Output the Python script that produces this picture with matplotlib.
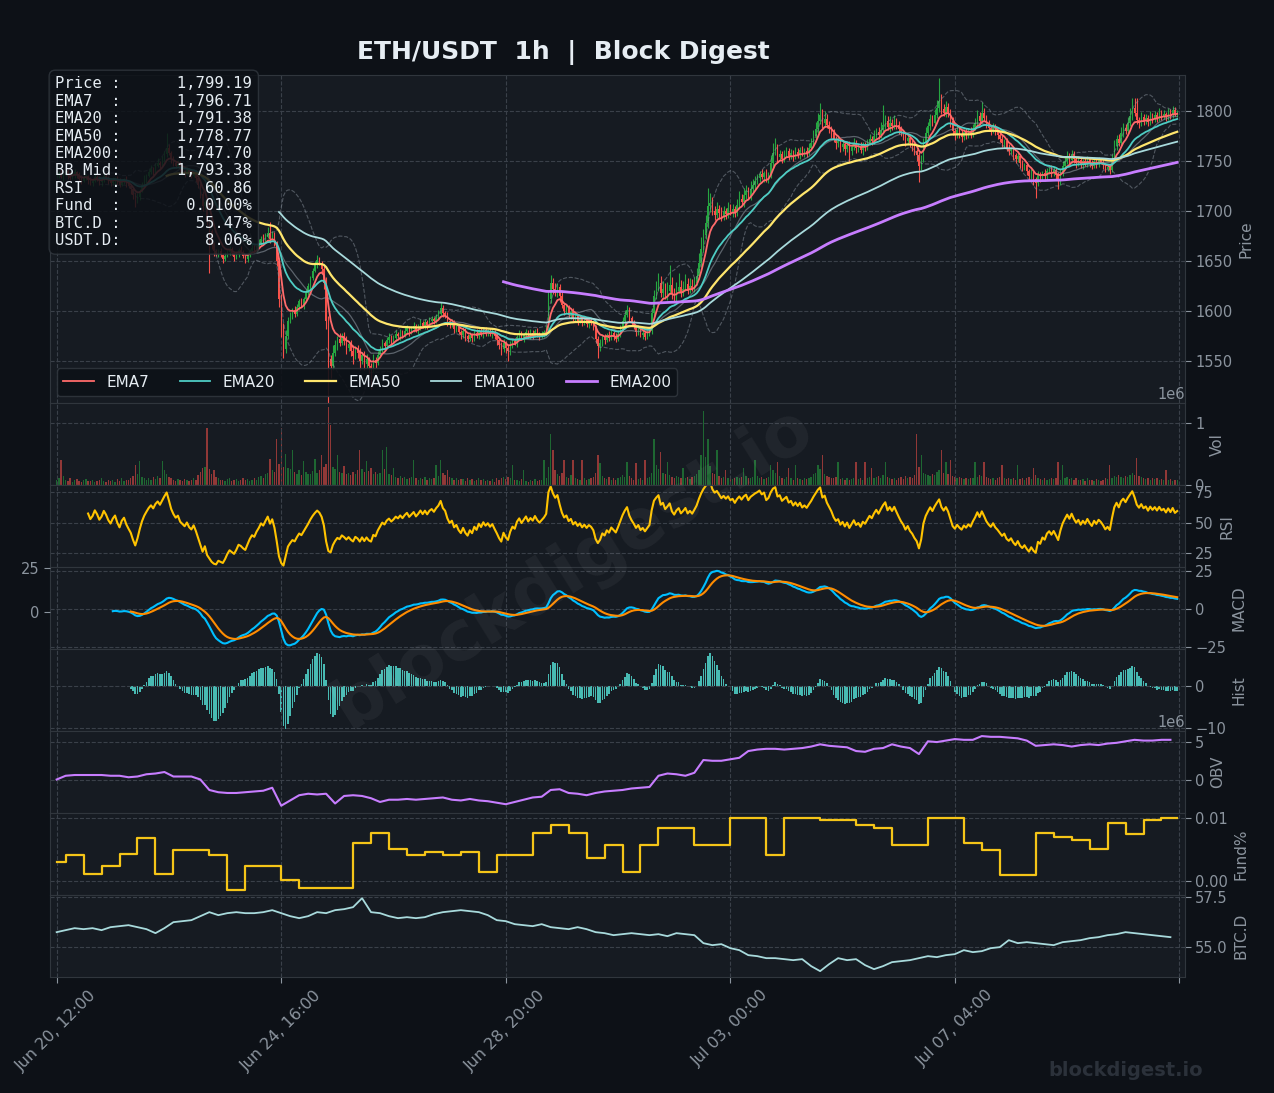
import numpy as np
import pandas as pd
import matplotlib
matplotlib.use("Agg")
import matplotlib.pyplot as plt
from matplotlib.ticker import FuncFormatter, FormatStrFormatter

BG = "#0d1117"
PANEL = "#161b22"
EDGE = "#30363d"
GRIDC = "#3a4049"
TXT = "#8b949e"
WHITE = "#e6edf3"

# hourly closes, Jun 20 12:00 -> Jul 11 07:00 (one line per day)
close = [
    1736, 1738, 1734, 1737, 1740, 1735, 1733, 1736, 1739, 1737, 1732, 1730, 1733, 1735, 1731, 1728, 1730, 1734, 1732, 1729, 1731, 1735, 1733, 1730,
    1728, 1731, 1733, 1729, 1726, 1730, 1732, 1728, 1725, 1722, 1716, 1710, 1714, 1720, 1726, 1731, 1735, 1739, 1742, 1740, 1745, 1748, 1746, 1751,
    1757, 1763, 1758, 1752, 1748, 1745, 1747, 1742, 1740, 1738, 1741, 1737, 1735, 1738, 1733, 1726, 1717, 1705, 1709, 1690, 1680, 1668, 1660, 1657,
    1660, 1656, 1652, 1655, 1659, 1662, 1658, 1654, 1657, 1661, 1659, 1655, 1652, 1656, 1660, 1663, 1661, 1665, 1668, 1672, 1670, 1674, 1678, 1672,
    1676, 1668, 1650, 1612, 1580, 1562, 1575, 1590, 1596, 1601, 1597, 1604, 1610, 1606, 1612, 1618, 1625, 1633, 1640, 1646, 1651, 1648, 1642, 1628,
    1590, 1552, 1545, 1558, 1566, 1572, 1568, 1575, 1570, 1563, 1567, 1560, 1555, 1562, 1558, 1550, 1556, 1547, 1552, 1545, 1542, 1551, 1548, 1556,
    1562, 1568, 1565, 1571, 1574, 1570, 1573, 1577, 1575, 1579, 1576, 1580, 1583, 1579, 1582, 1585, 1581, 1584, 1588, 1585, 1589, 1586, 1590, 1592,
    1590, 1594, 1597, 1603, 1598, 1596, 1590, 1586, 1588, 1582, 1584, 1579, 1576, 1580, 1575, 1572, 1576, 1573, 1578, 1575, 1580, 1577, 1581, 1578,
    1580, 1577, 1579, 1575, 1571, 1566, 1562, 1568, 1563, 1560, 1566, 1570, 1568, 1574, 1577, 1573, 1576, 1579, 1575, 1578, 1576, 1580, 1577, 1575,
    1577, 1579, 1582, 1612, 1628, 1622, 1618, 1624, 1615, 1606, 1600, 1603, 1596, 1599, 1592, 1595, 1590, 1593, 1588, 1591, 1587, 1590, 1588, 1584,
    1572, 1565, 1568, 1574, 1571, 1576, 1573, 1578, 1575, 1572, 1577, 1583, 1590, 1596, 1601, 1593, 1588, 1584, 1579, 1582, 1576, 1578, 1574, 1577,
    1580, 1598, 1615, 1622, 1628, 1618, 1622, 1615, 1620, 1626, 1617, 1613, 1620, 1624, 1618, 1622, 1627, 1621, 1625, 1622, 1628, 1635, 1648, 1662,
    1676, 1688, 1705, 1708, 1700, 1696, 1702, 1698, 1694, 1700, 1697, 1703, 1699, 1702, 1698, 1706, 1712, 1709, 1716, 1720, 1715, 1722, 1726, 1730,
    1733, 1737, 1734, 1738, 1732, 1736, 1748, 1758, 1762, 1754, 1757, 1752, 1756, 1760, 1755, 1758, 1754, 1759, 1756, 1761, 1757, 1760, 1758, 1763,
    1768, 1775, 1782, 1790, 1796, 1788, 1792, 1786, 1782, 1778, 1772, 1768, 1770, 1764, 1767, 1762, 1766, 1760, 1764, 1768, 1763, 1765, 1761, 1766,
    1764, 1768, 1772, 1770, 1775, 1779, 1776, 1781, 1786, 1790, 1784, 1788, 1785, 1790, 1786, 1782, 1778, 1775, 1770, 1773, 1768, 1765, 1760, 1756,
    1745, 1752, 1768, 1778, 1785, 1792, 1788, 1796, 1803, 1810, 1802, 1798, 1804, 1799, 1790, 1780, 1776, 1781, 1777, 1774, 1779, 1776, 1780, 1777,
    1783, 1788, 1795, 1790, 1798, 1793, 1787, 1783, 1780, 1784, 1779, 1776, 1772, 1768, 1770, 1763, 1760, 1762, 1756, 1752, 1755, 1748, 1744, 1746,
    1740, 1735, 1738, 1732, 1728, 1736, 1733, 1738, 1735, 1740, 1742, 1738, 1741, 1736, 1730, 1738, 1745, 1750, 1755, 1751, 1757, 1752, 1748, 1751,
    1746, 1750, 1747, 1752, 1748, 1745, 1750, 1747, 1751, 1749, 1746, 1742, 1744, 1741, 1752, 1765, 1772, 1768, 1778, 1783, 1780, 1788, 1795, 1803,
    1798, 1791, 1788, 1794, 1790, 1793, 1789, 1795, 1792, 1796, 1793, 1798, 1795, 1797, 1794, 1799, 1796, 1801, 1797, 1799.19,
]

# wick above the body / below the body, in USDT
wick_up = [
    3, 2, 4, 1, 3, 2, 5, 2, 3, 1, 2, 4, 3, 2, 1, 3, 2, 4, 2, 3, 1, 2, 3, 2,
    2, 3, 1, 2, 4, 2, 1, 3, 2, 1, 2, 3, 4, 2, 3, 5, 2, 3, 4, 2, 3, 5, 2, 4,
    3, 15, 4, 2, 3, 2, 4, 3, 2, 1, 3, 2, 4, 2, 3, 2, 2, 3, 2, 1, 3, 2, 1, 2,
    2, 3, 1, 4, 2, 3, 2, 1, 3, 2, 4, 2, 1, 3, 2, 4, 3, 2, 4, 3, 5, 4, 6, 11,
    4, 3, 2, 3, 5, 8, 6, 4, 3, 2, 4, 3, 2, 3, 2, 4, 3, 2, 3, 4, 5, 3, 2, 3,
    6, 5, 4, 8, 5, 3, 6, 3, 4, 5, 3, 4, 6, 3, 4, 5, 3, 4, 5, 2, 3, 6, 3, 4,
    3, 4, 2, 3, 4, 2, 3, 4, 2, 3, 2, 4, 3, 2, 3, 4, 2, 3, 4, 2, 3, 2, 4, 3,
    2, 3, 4, 6, 3, 2, 3, 2, 4, 3, 2, 3, 2, 4, 3, 2, 3, 2, 3, 4, 2, 3, 2, 3,
    2, 3, 4, 2, 3, 2, 3, 4, 2, 3, 4, 2, 3, 2, 4, 3, 2, 3, 2, 4, 3, 2, 3, 2,
    3, 2, 4, 8, 8, 5, 6, 4, 3, 5, 2, 4, 3, 2, 4, 3, 2, 3, 2, 4, 3, 2, 3, 2,
    2, 3, 4, 2, 3, 2, 4, 3, 2, 3, 4, 3, 4, 5, 5, 3, 2, 3, 2, 4, 2, 3, 2, 4,
    3, 5, 6, 8, 10, 7, 8, 6, 9, 20, 8, 6, 9, 14, 7, 8, 10, 6, 8, 7, 6, 8, 10, 12,
    6, 8, 18, 10, 6, 5, 7, 4, 6, 5, 3, 6, 4, 5, 3, 6, 8, 5, 7, 6, 4, 8, 6, 5,
    4, 3, 5, 2, 4, 3, 8, 10, 11, 5, 4, 3, 5, 4, 3, 4, 3, 5, 4, 3, 4, 3, 4, 5,
    5, 6, 7, 8, 12, 6, 8, 5, 4, 3, 4, 3, 5, 3, 4, 2, 3, 4, 3, 5, 3, 2, 4, 3,
    3, 4, 5, 3, 6, 4, 5, 8, 20, 6, 5, 7, 4, 6, 3, 4, 3, 2, 3, 4, 2, 3, 4, 2,
    3, 4, 5, 6, 4, 5, 4, 6, 8, 23, 7, 5, 6, 4, 3, 4, 3, 5, 3, 4, 3, 4, 3, 4,
    4, 5, 6, 4, 11, 5, 3, 4, 3, 4, 3, 2, 3, 4, 2, 3, 4, 2, 3, 2, 3, 2, 3, 2,
    3, 2, 4, 3, 2, 4, 3, 2, 4, 3, 2, 4, 3, 2, 3, 4, 5, 4, 5, 3, 4, 3, 2, 3,
    3, 2, 4, 3, 2, 3, 4, 2, 3, 2, 3, 2, 3, 2, 5, 6, 4, 5, 6, 5, 4, 6, 8, 10,
    10, 15, 3, 5, 3, 4, 3, 5, 3, 4, 3, 5, 3, 4, 2, 4, 3, 4, 3, 2,
]
wick_dn = [
    2, 3, 1, 4, 2, 3, 2, 1, 3, 4, 2, 3, 1, 2, 4, 2, 3, 1, 2, 3, 4, 2, 1, 3,
    3, 2, 4, 3, 2, 1, 3, 4, 2, 5, 4, 6, 2, 3, 1, 2, 3, 1, 2, 4, 2, 1, 3, 2,
    2, 3, 2, 4, 3, 2, 1, 3, 2, 4, 2, 3, 2, 1, 4, 3, 4, 5, 3, 4, 42, 6, 5, 2,
    3, 2, 4, 2, 1, 3, 2, 4, 2, 3, 1, 2, 4, 3, 2, 1, 3, 2, 1, 2, 3, 2, 1, 4,
    2, 3, 5, 8, 6, 9, 4, 3, 2, 4, 3, 2, 3, 2, 4, 3, 2, 3, 2, 1, 3, 2, 4, 6,
    8, 47, 12, 4, 3, 5, 3, 2, 4, 6, 3, 5, 8, 3, 5, 9, 3, 6, 4, 8, 20, 3, 5, 2,
    2, 3, 4, 2, 3, 5, 2, 3, 2, 4, 3, 2, 3, 4, 2, 3, 2, 4, 3, 2, 3, 4, 2, 3,
    3, 2, 3, 2, 4, 3, 5, 3, 2, 4, 3, 2, 4, 3, 5, 3, 2, 4, 3, 2, 3, 2, 4, 3,
    3, 2, 4, 3, 5, 4, 6, 3, 5, 10, 4, 3, 2, 4, 3, 2, 4, 3, 2, 3, 4, 2, 3, 4,
    2, 3, 2, 3, 4, 5, 3, 4, 6, 3, 4, 2, 3, 4, 2, 3, 4, 2, 3, 2, 3, 4, 2, 3,
    4, 12, 5, 3, 4, 2, 3, 2, 4, 3, 2, 3, 2, 3, 2, 4, 3, 2, 4, 3, 2, 4, 3, 2,
    2, 3, 4, 3, 2, 4, 5, 3, 4, 3, 5, 4, 3, 2, 4, 3, 2, 4, 3, 2, 3, 2, 3, 4,
    3, 4, 5, 6, 4, 5, 3, 6, 4, 3, 5, 4, 3, 5, 4, 3, 4, 3, 5, 4, 3, 4, 3, 4,
    3, 4, 2, 5, 3, 4, 3, 4, 2, 5, 3, 4, 3, 2, 4, 3, 4, 2, 3, 4, 2, 3, 4, 2,
    2, 3, 2, 4, 3, 5, 4, 3, 4, 5, 3, 6, 4, 5, 4, 6, 3, 11, 4, 3, 5, 4, 3, 5,
    4, 3, 2, 4, 3, 2, 4, 3, 2, 4, 3, 5, 4, 3, 4, 5, 3, 4, 5, 3, 4, 5, 4, 6,
    16, 4, 3, 2, 3, 4, 3, 2, 3, 4, 5, 3, 4, 5, 6, 4, 5, 3, 4, 5, 3, 4, 3, 4,
    3, 2, 3, 4, 2, 3, 4, 3, 4, 2, 3, 4, 3, 4, 5, 3, 4, 3, 5, 4, 3, 5, 4, 3,
    4, 5, 3, 6, 15, 3, 4, 3, 5, 4, 3, 4, 3, 5, 8, 4, 3, 2, 3, 4, 3, 4, 5, 3,
    3, 4, 2, 3, 4, 3, 2, 4, 3, 2, 4, 3, 2, 4, 2, 3, 4, 3, 2, 4, 3, 2, 3, 4,
    3, 4, 5, 3, 4, 3, 4, 3, 4, 3, 4, 3, 4, 3, 4, 3, 4, 3, 2, 3,
]

# hourly volume, thousands of ETH
volume_k = [
    80, 120, 410, 150, 90, 70, 110, 60, 85, 95, 70, 55, 80, 100, 65, 75, 90, 60, 70, 85, 110, 75, 60, 90,
    70, 85, 60, 95, 75, 110, 65, 80, 90, 120, 150, 330, 180, 400, 140, 120, 90, 110, 85, 130, 95, 150, 120, 400,
    250, 180, 140, 110, 90, 75, 100, 85, 70, 95, 80, 65, 90, 110, 85, 160, 220, 280, 300, 930, 260, 190, 250, 140,
    120, 90, 80, 70, 95, 110, 75, 85, 100, 70, 90, 115, 80, 95, 70, 85, 110, 90, 130, 150, 120, 180, 200, 420,
    250, 220, 740, 350, 930, 300, 500, 280, 260, 570, 220, 190, 240, 170, 400, 210, 180, 190, 230, 430, 200, 250, 490, 300,
    350, 1260, 980, 300, 260, 490, 220, 200, 310, 180, 200, 160, 220, 190, 240, 570, 260, 210, 400, 230, 280, 190, 220, 180,
    200, 570, 260, 610, 180, 160, 280, 140, 120, 150, 110, 130, 100, 120, 140, 410, 110, 90, 120, 100, 130, 85, 110, 95,
    120, 330, 150, 410, 200, 170, 250, 130, 110, 90, 120, 80, 100, 95, 70, 110, 85, 100, 75, 90, 120, 80, 95, 70,
    85, 70, 95, 60, 110, 90, 120, 140, 100, 130, 110, 330, 90, 80, 70, 100, 250, 75, 60, 85, 70, 95, 65, 80,
    90, 410, 110, 300, 820, 570, 240, 180, 150, 200, 410, 130, 110, 160, 410, 120, 100, 90, 410, 110, 80, 95, 120, 140,
    200, 490, 360, 150, 120, 100, 130, 90, 110, 85, 120, 140, 160, 130, 380, 150, 110, 90, 360, 100, 120, 85, 410, 110,
    130, 200, 740, 320, 260, 540, 200, 180, 380, 160, 140, 120, 150, 130, 110, 280, 120, 140, 100, 130, 150, 180, 250, 490,
    1200, 450, 740, 310, 200, 180, 570, 150, 120, 140, 250, 110, 130, 100, 120, 140, 110, 130, 280, 150, 120, 110, 140, 410,
    150, 120, 130, 100, 110, 140, 330, 250, 200, 380, 150, 120, 100, 130, 280, 110, 90, 330, 120, 100, 85, 110, 95, 120,
    140, 180, 200, 330, 260, 490, 180, 150, 140, 120, 110, 130, 380, 100, 120, 90, 110, 85, 100, 120, 380, 95, 110, 90,
    380, 120, 140, 280, 110, 130, 150, 120, 170, 380, 130, 110, 100, 120, 90, 110, 130, 100, 150, 120, 140, 110, 160, 820,
    300, 490, 200, 180, 160, 150, 190, 170, 220, 250, 570, 200, 380, 180, 410, 150, 140, 120, 130, 110, 100, 120, 95, 110,
    120, 380, 140, 160, 150, 380, 130, 110, 100, 120, 90, 110, 130, 330, 110, 100, 120, 95, 110, 85, 330, 100, 120, 90,
    110, 130, 95, 280, 160, 120, 100, 90, 110, 85, 100, 120, 95, 110, 380, 90, 330, 110, 130, 100, 120, 85, 110, 90,
    80, 95, 70, 110, 85, 90, 75, 100, 85, 70, 90, 110, 95, 330, 120, 150, 130, 160, 140, 120, 150, 130, 170, 200,
    160, 440, 150, 130, 120, 100, 110, 90, 120, 95, 110, 85, 100, 90, 250, 80, 95, 70, 85, 90,
]

# funding rate in %, first value 12:00-16:00 then one per 8h
funding = [
    0.0030, 0.0041, 0.0011, 0.0024, 0.0044, 0.0068, 0.0011, 0.0049, 0.0049, 0.0041,
    -0.0014, 0.0025, 0.0025, 0.0002, -0.0011, -0.0011, -0.0011, 0.0060, 0.0076, 0.0052,
    0.0041, 0.0046, 0.0041, 0.0046, 0.0014, 0.0041, 0.0041, 0.0076, 0.0089, 0.0076,
    0.0037, 0.0057, 0.0014, 0.0057, 0.0084, 0.0084, 0.0057, 0.0057, 0.0100, 0.0100,
    0.0041, 0.0100, 0.0100, 0.0097, 0.0097, 0.0089, 0.0084, 0.0057, 0.0057, 0.0100,
    0.0100, 0.0060, 0.0049, 0.0010, 0.0010, 0.0076, 0.0070, 0.0065, 0.0052, 0.0092,
    0.0075, 0.0097, 0.0100,
]

# OBV (millions) and BTC dominance (%), one reading every 4 hours
obv_m = [
    0.0, 0.5, 0.6, 0.6, 0.6, 0.6, 0.5, 0.5, 0.3, 0.4,
    0.7, 0.8, 1.0, 0.4, 0.4, 0.4, 0.0, -1.4, -1.7, -1.8,
    -1.8, -1.7, -1.6, -1.5, -1.1, -3.5, -2.8, -2.1, -1.9, -2.0,
    -1.9, -3.2, -2.2, -2.1, -2.2, -2.5, -3.0, -2.7, -2.7, -2.6,
    -2.7, -2.6, -2.5, -2.4, -2.7, -2.8, -2.6, -2.8, -2.9, -3.1,
    -3.3, -3.0, -2.7, -2.4, -2.3, -1.4, -1.3, -1.8, -1.9, -2.1,
    -1.8, -1.6, -1.5, -1.4, -1.2, -1.1, -1.0, 0.5, 0.8, 0.7,
    0.5, 0.9, 2.6, 2.5, 2.5, 2.7, 2.9, 3.8, 4.0, 4.1,
    4.1, 4.0, 4.1, 4.2, 4.4, 4.7, 4.5, 4.4, 4.3, 3.8,
    3.7, 4.1, 4.2, 4.7, 4.4, 4.2, 3.4, 5.1, 5.0, 5.2,
    5.4, 5.3, 5.3, 5.8, 5.7, 5.7, 5.6, 5.5, 5.2, 4.5,
    4.6, 4.7, 4.6, 4.4, 4.6, 4.7, 4.6, 4.8, 4.9, 5.1,
    5.3, 5.2, 5.2, 5.3, 5.3,
]
btc_dom = [
    55.75, 55.85, 55.95, 55.90, 55.95, 55.85, 56.00, 56.05, 56.10, 56.00,
    55.90, 55.70, 55.95, 56.25, 56.30, 56.35, 56.55, 56.75, 56.60, 56.70,
    56.75, 56.70, 56.70, 56.75, 56.85, 56.70, 56.55, 56.45, 56.55, 56.75,
    56.70, 56.85, 56.90, 57.00, 57.45, 56.75, 56.70, 56.55, 56.45, 56.50,
    56.45, 56.50, 56.65, 56.75, 56.80, 56.85, 56.80, 56.75, 56.60, 56.35,
    56.30, 56.15, 56.10, 56.05, 56.15, 56.00, 55.95, 55.90, 56.00, 55.90,
    55.75, 55.70, 55.60, 55.65, 55.70, 55.65, 55.60, 55.65, 55.55, 55.70,
    55.65, 55.60, 55.20, 55.10, 55.15, 54.95, 54.85, 54.60, 54.55, 54.45,
    54.45, 54.40, 54.35, 54.40, 54.05, 53.80, 54.15, 54.45, 54.35, 54.40,
    54.10, 53.90, 54.05, 54.25, 54.30, 54.35, 54.45, 54.55, 54.50, 54.60,
    54.65, 54.85, 54.75, 54.80, 54.95, 55.00, 55.35, 55.20, 55.25, 55.20,
    55.15, 55.10, 55.25, 55.30, 55.35, 55.45, 55.50, 55.60, 55.65, 55.75,
    55.70, 55.65, 55.60, 55.55, 55.50,
]

info_labels = ["Price", "EMA7", "EMA20", "EMA50", "EMA200", "BB Mid", "RSI", "Fund", "BTC.D", "USDT.D"]
info_values = ["1,799.19", "1,796.71", "1,791.38", "1,778.77", "1,747.70", "1,793.38",
               "60.86", "0.0100%", "55.47%", "8.06%"]

# ---- derived series ----
n = len(close)
x = np.arange(n)
dates = pd.date_range("2025-06-20 12:00", periods=n, freq="h")

c = pd.Series(close, dtype=float)
o = c.shift(1).fillna(c.iloc[0])
hi = np.maximum(o, c) + np.array(wick_up)
lo = np.minimum(o, c) - np.array(wick_dn)
up = (c >= o).values
cols = np.where(up, "#26a641", "#f85149")

ema = {p: c.ewm(span=p, adjust=False, min_periods=p).mean() for p in (7, 20, 50, 100, 200)}
bb_mid = c.rolling(20).mean()
bb_sd = c.rolling(20).std()

delta = c.diff()
gain = delta.clip(lower=0).ewm(alpha=1 / 14, adjust=False, min_periods=14).mean()
loss = (-delta.clip(upper=0)).ewm(alpha=1 / 14, adjust=False, min_periods=14).mean()
rsi = 100 - 100 / (1 + gain / loss)

macd = c.ewm(span=12, adjust=False).mean() - c.ewm(span=26, adjust=False, min_periods=26).mean()
signal = macd.ewm(span=9, adjust=False, min_periods=9).mean()
hist = macd - signal

x4 = np.arange(0, n, 4)
fund_x = [0] + list(range(4, n, 8)) + [n - 1]
fund_y = funding + [funding[-1]]

# ---- figure ----
fig = plt.figure(figsize=(12.74, 10.93), dpi=100, facecolor=BG)
gs = fig.add_gridspec(8, 1, height_ratios=[4, 1, 1, 1, 1, 1, 1, 1],
                      left=0.039, right=0.930, top=0.931, bottom=0.106, hspace=0)
axes = [fig.add_subplot(gs[0])]
for i in range(1, 8):
    axes.append(fig.add_subplot(gs[i], sharex=axes[0]))
ax_p, ax_v, ax_r, ax_m, ax_h, ax_o, ax_f, ax_b = axes

# extra left scale on the MACD panel
ax_ml = ax_m.twinx()

for ax in axes:
    ax.set_facecolor(PANEL)
    for s in ax.spines.values():
        s.set_color(EDGE)
    ax.yaxis.tick_right()
    ax.yaxis.set_label_position("right")
    ax.yaxis.set_offset_position("right")
    ax.tick_params(colors=TXT, labelsize=10.5, length=4)
    ax.grid(True, color=GRIDC, ls="--", lw=0.8)
    ax.yaxis.get_offset_text().set_color(TXT)
    ax.yaxis.get_offset_text().set_fontsize(10.5)
    ax.tick_params(axis="x", labelbottom=False)

ax_ml.yaxis.tick_left()
ax_ml.set_ylim(-21.5, 25.2)
ax_ml.set_yticks([0, 25])
ax_ml.tick_params(colors=TXT, labelsize=10.5, length=4)
for s in ax_ml.spines.values():
    s.set_visible(False)

# price candles
ax_p.vlines(x, lo, hi, colors=cols, lw=0.8, zorder=2)
ax_p.bar(x, np.maximum(np.abs(c - o), 0.6), bottom=np.minimum(o, c), width=0.6, color=cols, zorder=2)
ax_p.plot(x, bb_mid + 2 * bb_sd, color=TXT, ls="--", lw=0.8, alpha=0.5, zorder=3)
ax_p.plot(x, bb_mid - 2 * bb_sd, color=TXT, ls="--", lw=0.8, alpha=0.5, zorder=3)
ax_p.plot(x, bb_mid, color=TXT, lw=0.9, alpha=0.6, zorder=3)
ema_style = {7: ("#ff6b6b", 1.3), 20: ("#4ecdc4", 1.3), 50: ("#ffe66d", 1.6),
             100: ("#a8dadc", 1.3), 200: ("#c77dff", 2.0)}
for p, (col, lw) in ema_style.items():
    ax_p.plot(x, ema[p], color=col, lw=lw, label=f"EMA{p}", zorder=4)
ax_p.set_ylim(1508, 1836)
ax_p.set_yticks([1550, 1600, 1650, 1700, 1750, 1800])
ax_p.set_ylabel("Price", color=TXT, fontsize=11)
leg = ax_p.legend(loc="lower left", ncol=5, fontsize=11, facecolor=BG, edgecolor=EDGE,
                  framealpha=0.9, labelcolor=WHITE)
leg.set_zorder(20)

info = "\n".join(f"{k:<6}:{v:>14}" for k, v in zip(info_labels, info_values))
ax_p.text(0.005, 0.997, info, transform=ax_p.transAxes, va="top", ha="left",
          family="DejaVu Sans Mono", fontsize=11.2, color=WHITE, zorder=30,
          bbox=dict(boxstyle="round,pad=0.4", fc=BG, ec=EDGE, alpha=0.85))

# volume
ax_v.bar(x, np.array(volume_k) * 1000.0, width=0.6, color=cols, alpha=0.55)
ax_v.set_yticks([0, 1e6])
ax_v.set_ylabel("Vol", color=TXT, fontsize=11)

# RSI
ax_r.plot(x, rsi, color="#ffc300", lw=1.5)
ax_r.set_ylim(13.5, 80.5)
ax_r.set_yticks([25, 50, 75])
ax_r.set_ylabel("RSI", color=TXT, fontsize=11)

# MACD
ax_m.plot(x, macd, color="#00bfff", lw=1.5)
ax_m.plot(x, signal, color="#ff8c00", lw=1.5)
ax_m.set_ylim(-26.4, 27.7)
ax_m.set_yticks([-25, 0, 25])
ax_m.set_ylabel("MACD", color=TXT, fontsize=11)

# histogram
ax_h.bar(x, hist, width=0.7, color="#4ecdc4", alpha=0.9)
ax_h.set_ylim(-10.7, 8.8)
ax_h.set_yticks([-10, 0])
ax_h.set_ylabel("Hist", color=TXT, fontsize=11)

# OBV
ax_o.plot(x4, np.array(obv_m) * 1e6, color="#c77dff", lw=1.5)
ax_o.set_ylim(-4.5e6, 6.45e6)
ax_o.set_yticks([0, 5e6])
ax_o.set_ylabel("OBV", color=TXT, fontsize=11)

# funding
ax_f.step(fund_x, fund_y, where="post", color="#f5c518", lw=1.6)
ax_f.set_ylim(-0.0022, 0.0108)
ax_f.set_yticks([0.0, 0.01])
ax_f.yaxis.set_major_formatter(FormatStrFormatter("%.2f"))
ax_f.set_ylabel("Fund%", color=TXT, fontsize=11)

# BTC dominance
ax_b.plot(x4, btc_dom, color="#a8dadc", lw=1.3)
ax_b.set_ylim(53.5, 57.6)
ax_b.set_yticks([55.0, 57.5])
ax_b.yaxis.set_major_formatter(FormatStrFormatter("%.1f"))
ax_b.set_ylabel("BTC.D", color=TXT, fontsize=11)

ax_b.set_xlim(-3.1, 502.4)
ax_b.set_xticks([0, 100, 200, 300, 400, 500])
ax_b.xaxis.set_major_formatter(FuncFormatter(
    lambda v, p: dates[int(v)].strftime("%b %d, %H:%M") if 0 <= int(v) < n else ""))
ax_b.tick_params(axis="x", labelbottom=True, labelsize=11.5, rotation=45)

fig.text(0.442, 0.952, "ETH/USDT  1h  |  Block Digest", ha="center", va="center",
         fontsize=18, fontweight="bold", color=WHITE)
fig.text(0.449, 0.481, "blockdigest.io", ha="center", va="center", fontsize=50,
         fontweight="bold", color="white", alpha=0.05, rotation=32)
fig.text(0.944, 0.021, "blockdigest.io", ha="right", va="center", fontsize=14,
         fontweight="bold", color="#2b313a")

fig.savefig("out.png", dpi=100, facecolor=BG)
